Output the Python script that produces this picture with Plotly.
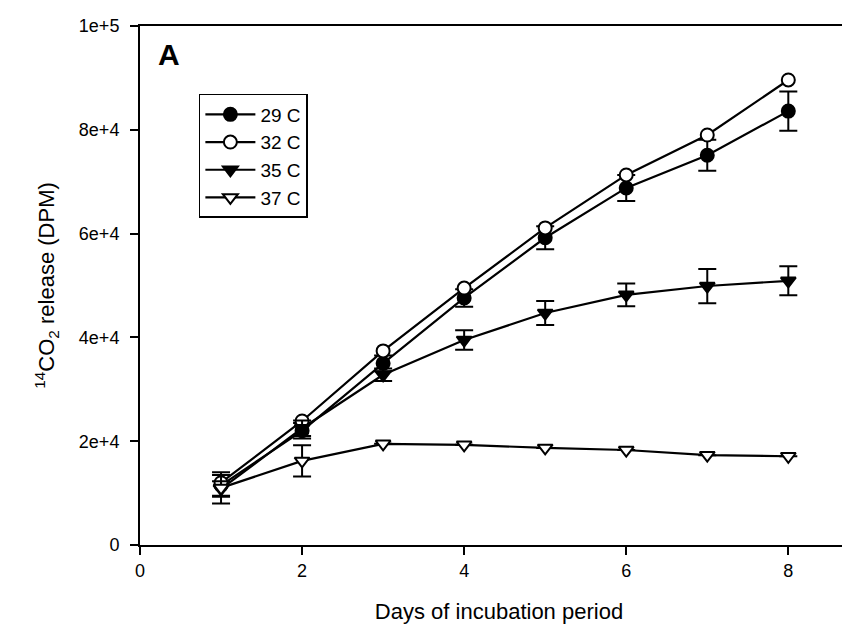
import plotly.graph_objects as go

days = [1, 2, 3, 4, 5, 6, 7, 8]
series_names = ["29 C", "32 C", "35 C", "37 C"]

dpm_29 = [11500, 22000, 35000, 47600, 59200, 68800, 75100, 83600]
dpm_32 = [12000, 23900, 37400, 49500, 61100, 71300, 79000, 89600]
dpm_35 = [10800, 22500, 32800, 39500, 44700, 48200, 49900, 50900]
dpm_37 = [11000, 16200, 19500, 19300, 18700, 18300, 17300, 17100]

err_29 = [2000, 1500, 1500, 1700, 2200, 2500, 3000, 3800]
err_32 = [None, None, None, None, None, None, None, None]
err_35 = [1500, 1500, 1200, 1900, 2300, 2200, 3300, 2800]
err_37 = [3000, 3000, None, None, None, None, None, None]

y_tickvals = [0, 20000, 40000, 60000, 80000, 100000]
y_ticktext = ["0", "2e+4", "4e+4", "6e+4", "8e+4", "1e+5"]
x_tickvals = [0, 2, 4, 6, 8]

FONT = "Liberation Sans, Arial, sans-serif"

styles = [
    dict(symbol="circle", fill="black"),
    dict(symbol="circle", fill="white"),
    dict(symbol="triangle-down", fill="black"),
    dict(symbol="triangle-down", fill="white"),
]
values = [dpm_29, dpm_32, dpm_35, dpm_37]
errors = [err_29, err_32, err_35, err_37]

fig = go.Figure()
for name, vals, errs, st in zip(series_names, values, errors, styles):
    has_err = any(e is not None for e in errs)
    fig.add_trace(go.Scatter(
        x=days, y=vals, name=name, mode="lines+markers",
        line=dict(color="black", width=2.2),
        marker=dict(symbol=st["symbol"], size=13, color=st["fill"],
                    line=dict(color="black", width=2)),
        error_y=dict(type="data", array=errs, visible=has_err,
                     color="black", thickness=2, width=9),
    ))

fig.add_annotation(text="<b>A</b>", x=0.041, y=0.946, xref="paper", yref="paper",
                   xanchor="center", yanchor="middle", showarrow=False,
                   font=dict(family=FONT, size=30, color="black"))

fig.update_layout(
    width=850, height=626,
    margin=dict(l=132, r=0, t=18, b=89),
    paper_bgcolor="white", plot_bgcolor="white",
    font=dict(family=FONT, size=18, color="black"),
    showlegend=True,
    legend=dict(x=0.082, y=0.869, xanchor="left", yanchor="top",
                bgcolor="white", bordercolor="black", borderwidth=1.5,
                font=dict(family=FONT, size=19, color="black"),
                itemwidth=50, tracegroupgap=0),
    xaxis=dict(range=[0, 8.86], tickvals=x_tickvals, ticks="outside", ticklen=8,
               tickwidth=1.5, tickcolor="black", showline=True, linecolor="black",
               linewidth=2, mirror=True, showgrid=False, zeroline=False,
               tickfont=dict(family=FONT, size=18),
               title=dict(text="Days of incubation period", standoff=24,
                          font=dict(family=FONT, size=22))),
    yaxis=dict(range=[0, 100000], tickvals=y_tickvals, ticktext=y_ticktext,
               ticks="outside", ticklen=8, tickwidth=1.5, tickcolor="black",
               showline=True, linecolor="black", linewidth=2, mirror=False,
               showgrid=False, zeroline=False, tickfont=dict(family=FONT, size=18),
               ticklabelstandoff=7,
               title=dict(text="<sup>14</sup>CO<sub>2</sub> release (DPM)", standoff=18,
                          font=dict(family=FONT, size=22))),
)

fig.write_html("out.html")
